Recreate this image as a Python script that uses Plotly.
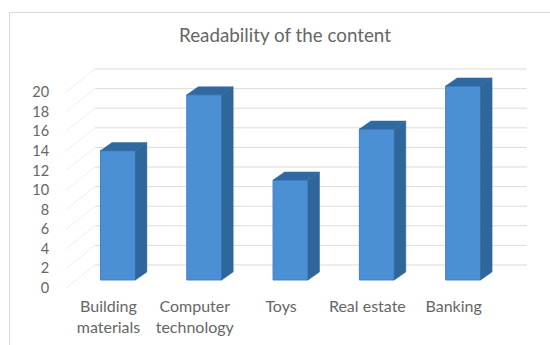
import plotly.graph_objects as go

title = "Readability of the content"
categories = ["Building<br>materials", "Computer<br>technology", "Toys", "Real estate", "Banking"]
values = [13.2, 18.9, 10.2, 15.4, 19.8]
y_ticks = list(range(0, 21, 2))

# Oblique projection used for the pseudo-3D columns (data units)
FRONT_LIFT = 0.82   # front floor sits above the axis-label zero
BACK_LIFT = 2.35    # back wall gridlines relative to the labels
DEPTH_X = 0.133
DEPTH_Y = 0.82
BAR_SHIFT = 0.11
BAR_WIDTH = 0.405
WALL_LEFT = -0.155
WALL_RIGHT = 4.85
AXIS_LEFT = -0.492

FACE = "#4b8fd5"
SIDE = "#2f669c"
TOP = "#30699f"
GRID = "#dedbd8"
WALL_GRID = "#f0eeec"
TEXT = "#666666"
FONT = "Lato"

positions = list(range(len(categories)))
fig = go.Figure()

# Front faces
fig.add_trace(go.Bar(
    x=[p + BAR_SHIFT for p in positions],
    y=values,
    base=[FRONT_LIFT] * len(values),
    width=BAR_WIDTH,
    marker=dict(color=FACE, line=dict(color="#4080c4", width=1)),
    hoverinfo="skip",
))

# Side and top faces derived from each value
for p, v in zip(positions, values):
    left = p + BAR_SHIFT - BAR_WIDTH / 2
    right = p + BAR_SHIFT + BAR_WIDTH / 2
    top = v + FRONT_LIFT
    fig.add_trace(go.Scatter(
        x=[right, right + DEPTH_X, right + DEPTH_X, right, right],
        y=[FRONT_LIFT, FRONT_LIFT + DEPTH_Y, top + DEPTH_Y, top, FRONT_LIFT],
        mode="lines", fill="toself", fillcolor=SIDE,
        line=dict(color=SIDE, width=0.5), hoverinfo="skip",
    ))
    fig.add_trace(go.Scatter(
        x=[left, left + DEPTH_X, right + DEPTH_X, right, left],
        y=[top, top + DEPTH_Y, top + DEPTH_Y, top, top],
        mode="lines", fill="toself", fillcolor=TOP,
        line=dict(color=TOP, width=0.5), hoverinfo="skip",
    ))

# Back wall gridlines and their faint diagonals on the side wall
shapes = []
for t in y_ticks:
    shapes.append(dict(type="line", layer="below", xref="x", yref="y",
                       x0=WALL_LEFT, x1=WALL_RIGHT, y0=t + BACK_LIFT, y1=t + BACK_LIFT,
                       line=dict(color=GRID, width=1)))
    shapes.append(dict(type="line", layer="below", xref="x", yref="y",
                       x0=AXIS_LEFT, x1=WALL_LEFT, y0=t, y1=t + BACK_LIFT,
                       line=dict(color=WALL_GRID, width=1)))

# Chart frame: only the top and left edges fall inside the page
PLOT_W, PLOT_H = 461, 235
frame_x = (9.5 - 66) / PLOT_W
frame_top = (295 - 12.5) / PLOT_H
shapes.append(dict(type="line", xref="paper", yref="paper", layer="below",
                   x0=frame_x, x1=(550 - 66) / PLOT_W, y0=frame_top, y1=frame_top,
                   line=dict(color="#d9d9d9", width=1)))
shapes.append(dict(type="line", xref="paper", yref="paper", layer="below",
                   x0=frame_x, x1=frame_x, y0=frame_top, y1=(295 - 345) / PLOT_H,
                   line=dict(color="#d9d9d9", width=1)))

fig.update_layout(
    width=550, height=345,
    margin=dict(l=66, r=23, t=60, b=50, autoexpand=False),
    paper_bgcolor="white", plot_bgcolor="rgba(0,0,0,0)",
    showlegend=False,
    title=dict(text=title, x=285 / 550, xanchor="center", y=1 - 35 / 345, yanchor="middle",
               font=dict(family=FONT, size=18.8, color=TEXT)),
    shapes=shapes,
    font=dict(family=FONT, color=TEXT),
    xaxis=dict(range=[AXIS_LEFT, WALL_RIGHT], tickmode="array", tickvals=positions,
               ticktext=categories, showgrid=False, zeroline=False, showline=False,
               automargin=False,
               ticks="", ticklen=0,
               tickfont=dict(family=FONT, size=16, color=TEXT), tickangle=0),
    yaxis=dict(range=[-0.714, 23.27], tickmode="array", tickvals=y_ticks,
               showgrid=False, zeroline=False, showline=False, automargin=False,
               ticks="outside", ticklen=13, tickcolor="rgba(0,0,0,0)",
               tickfont=dict(family=FONT, size=14.5, color=TEXT)),
)

fig.write_html("out.html", config=dict(displayModeBar=False))
